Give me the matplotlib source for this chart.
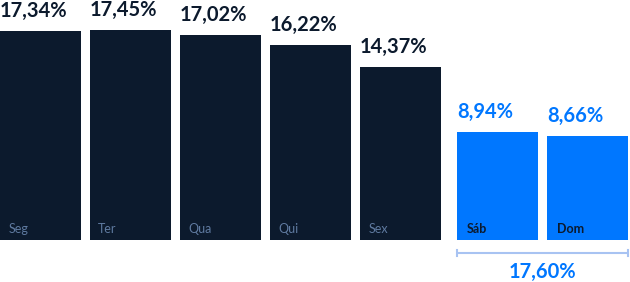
import matplotlib.pyplot as plt
import numpy as np

# Share of the week per day (%)
weekdays = ["Seg", "Ter", "Qua", "Qui", "Sex"]
weekday_vals = [17.34, 17.45, 17.02, 16.22, 14.37]
weekend = ["Sáb", "Dom"]
weekend_vals = [8.94, 8.66]

navy = "#0c1a2d"
blue = "#0077ff"
bar_w = 0.9


def fmt(v):
    return f"{v:.2f}".replace(".", ",") + "%"


fig = plt.figure(figsize=(6.3, 2.82), dpi=100)
ax = fig.add_axes([0, 0, 1, 1])

x_wd = np.arange(len(weekdays))
x_we = np.arange(len(weekend)) + len(weekdays) + 0.083

ax.bar(x_wd, weekday_vals, width=bar_w, color=navy)
ax.bar(x_we, weekend_vals, width=bar_w, color=blue)

# value labels above bars, left-aligned with bar edge
for xs, vals, col in [(x_wd, weekday_vals, navy), (x_we, weekend_vals, blue)]:
    for xi, v in zip(xs, vals):
        ax.annotate(fmt(v), (xi - bar_w / 2, v), xytext=(0, 10), textcoords="offset points",
                    ha="left", va="baseline", fontsize=14.5, fontweight="bold",
                    family="Lato", color=col)

# day names inside bars
for xi, name in zip(x_wd, weekdays):
    ax.annotate(name, (xi - bar_w / 2, 0), xytext=(6, 5), textcoords="offset points",
                ha="left", va="baseline", fontsize=9, family="Lato", color="#5f7aa0")
for xi, name in zip(x_we, weekend):
    ax.annotate(name, (xi - bar_w / 2, 0), xytext=(7, 5), textcoords="offset points",
                ha="left", va="baseline", fontsize=9, fontweight="bold",
                family="Lato", color=navy)

# bracket under weekend bars
left = x_we[0] - bar_w / 2
right = x_we[-1] + bar_w / 2
yb = -1.08
ax.plot([left, right], [yb, yb], color="#a8c3f2", lw=1.5, solid_capstyle="butt")
ax.plot([left, left], [yb - 0.25, yb + 0.25], color="#a8c3f2", lw=1.5)
ax.plot([right, right], [yb - 0.25, yb + 0.25], color="#a8c3f2", lw=1.5)
ax.text((left + right) / 2, -2.66, fmt(sum(weekend_vals)), ha="center", va="center",
        fontsize=14.5, fontweight="bold", family="Lato", color=blue)

ax.set_xlim(-0.45, 6.55)
ax.set_ylim(-3.49, 19.92)
ax.axis("off")

fig.savefig("out.png", dpi=100)
